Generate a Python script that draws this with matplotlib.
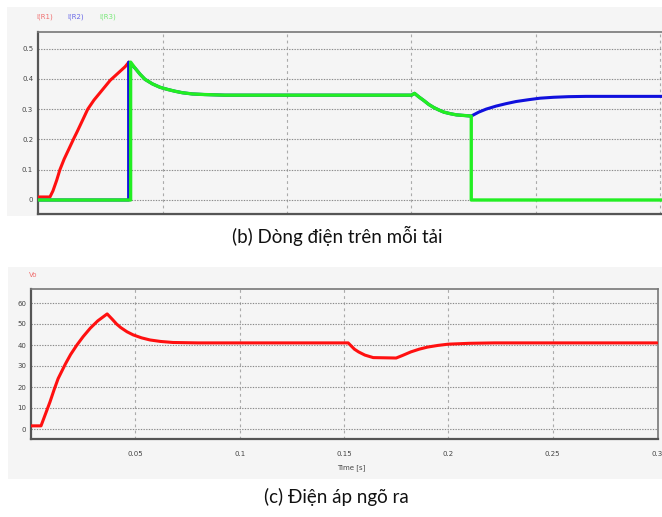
import matplotlib
matplotlib.use("Agg")
import matplotlib.pyplot as plt
from matplotlib.patches import Rectangle

# ---------------- data ----------------
# (b) load currents
t_r1 = [0, 0.0048, 0.0060, 0.0075, 0.0088, 0.0105, 0.0125, 0.0145, 0.0157,
        0.018, 0.020, 0.0225, 0.025, 0.027, 0.029, 0.031, 0.033, 0.035, 0.0365]
i_r1 = [0.01, 0.01, 0.03, 0.065, 0.10, 0.135, 0.17, 0.205, 0.225,
        0.265, 0.30, 0.33, 0.355, 0.375, 0.395, 0.41, 0.425, 0.44, 0.455]

t_r2 = [0, 0.0364, 0.0364, 0.039, 0.041, 0.043, 0.046, 0.049, 0.052, 0.055,
        0.058, 0.062, 0.067, 0.075, 0.150, 0.1512, 0.153, 0.155, 0.157,
        0.159, 0.161, 0.163, 0.1655, 0.168, 0.171, 0.174, 0.177, 0.180,
        0.184, 0.188, 0.192, 0.197, 0.2016, 0.207, 0.213, 0.22, 0.251]
i_r2 = [0, 0, 0.455, 0.435, 0.415, 0.398, 0.383, 0.372, 0.365, 0.359,
        0.354, 0.350, 0.348, 0.346, 0.346, 0.352, 0.34, 0.328, 0.315,
        0.305, 0.297, 0.290, 0.285, 0.281, 0.279, 0.277, 0.290, 0.300,
        0.310, 0.318, 0.325, 0.331, 0.336, 0.339, 0.341, 0.342, 0.342]

t_r3 = [0, 0.0372, 0.0372, 0.039, 0.041, 0.043, 0.046, 0.049, 0.052, 0.055,
        0.058, 0.062, 0.067, 0.075, 0.150, 0.1512, 0.153, 0.155, 0.157,
        0.159, 0.161, 0.163, 0.1655, 0.168, 0.171, 0.174, 0.174, 0.251]
i_r3 = [0, 0, 0.455, 0.435, 0.415, 0.398, 0.383, 0.372, 0.365, 0.359,
        0.354, 0.350, 0.348, 0.346, 0.346, 0.352, 0.34, 0.328, 0.315,
        0.305, 0.297, 0.290, 0.285, 0.281, 0.279, 0.277, 0, 0]

# (c) output voltage
t_vo = [0, 0.0048, 0.0065, 0.0091, 0.011, 0.013, 0.0165, 0.019, 0.022,
        0.025, 0.0284, 0.032, 0.0365, 0.039, 0.041, 0.043, 0.046, 0.049,
        0.053, 0.057, 0.062, 0.068, 0.08, 0.152, 0.1535, 0.155, 0.157,
        0.160, 0.164, 0.175, 0.178, 0.182, 0.186, 0.19, 0.195, 0.2, 0.21,
        0.222, 0.3]
vo = [1.5, 1.5, 6, 12.9, 18.5, 24, 31, 35.5, 40,
      44, 48, 51.5, 54.8, 52.2, 50, 48.3, 46.3, 44.8,
      43.4, 42.4, 41.7, 41.2, 41, 41, 39.5, 38, 36.7,
      35.2, 34, 33.8, 35, 36.7, 38, 39, 39.8, 40.4, 40.8,
      41, 41]

top_yticks = [0, 0.1, 0.2, 0.3, 0.4, 0.5]
top_yticklabels = ["0", "0.1", "0.2", "0.3", "0.4", "0.5"]
top_xgrid = [0.05, 0.10, 0.15, 0.20, 0.25]
bot_yticks = [0, 10, 20, 30, 40, 50, 60]
bot_xticks = [0.05, 0.1, 0.15, 0.2, 0.25, 0.3]
bot_xticklabels = ["0.05", "0.1", "0.15", "0.2", "0.25", "0.3"]

legend_names = ["I(R1)", "I(R2)", "I(R3)"]
caption_b = "(b) Dòng điện trên mỗi tải"
caption_c = "(c) Điện áp ngõ ra"

# ---------------- figure ----------------
W, H = 662, 517
fig = plt.figure(figsize=(W / 100, H / 100), dpi=100)
fig.patch.set_facecolor("white")

def fx(px):
    return px / W

def fy(py):
    return 1 - py / H

bg = "#f5f5f5"
fig.patches.append(Rectangle((fx(7), fy(216)), fx(662 - 7), (216 - 7) / H,
                             transform=fig.transFigure, facecolor=bg,
                             edgecolor="none", zorder=-5))
fig.patches.append(Rectangle((fx(8), fy(479)), fx(662 - 8), (479 - 267) / H,
                             transform=fig.transFigure, facecolor=bg,
                             edgecolor="none", zorder=-5))

red = "#ff1010"
blue = "#1010dd"
green = "#22ee22"
tick_color = "#444444"

def style(ax):
    ax.set_zorder(2)
    ax.set_facecolor(bg)
    ax.tick_params(length=0, labelsize=5, colors=tick_color)
    ax.grid(axis="y", color="#8a8a8a", linestyle=(0, (1.2, 1.2)), linewidth=0.8)
    for s in ["left", "bottom"]:
        ax.spines[s].set_color("#555555")
        ax.spines[s].set_linewidth(1.6)
    ax.spines["top"].set_color("#777777")
    ax.spines["top"].set_linewidth(1.2)
    ax.spines["right"].set_color("#777777")
    ax.spines["right"].set_linewidth(1.2)

line_kw = dict(solid_joinstyle="round", solid_capstyle="round")

# top axes
ax1 = fig.add_axes([fx(38), fy(214), fx(662 - 38), (214 - 32) / H])
style(ax1)
ax1.spines["right"].set_visible(False)
ax1.set_xlim(0, (662 - 38) / 2490)
ax1.set_ylim((200 - 214) / 303.0, (200 - 32) / 303.0)
ax1.set_yticks(top_yticks)
ax1.set_yticklabels(top_yticklabels)
ax1.set_xticks([])
for xg in top_xgrid:
    ax1.axvline(xg, color="#aaaaaa", linestyle=(0, (2.5, 3)), linewidth=0.8, zorder=1)
ax1.plot(t_r1, i_r1, color=red, linewidth=2.2, zorder=3, **line_kw)
ax1.plot(t_r2, i_r2, color=blue, linewidth=2.2, zorder=4, **line_kw)
ax1.plot(t_r3, i_r3, color=green, linewidth=2.4, zorder=5, **line_kw)

leg_cols = ["#f07070", "#6a6ae8", "#77e877"]
for name, col, px in zip(legend_names, leg_cols, [45, 76, 108]):
    fig.text(fx(px), fy(17), name, color=col, fontsize=5, ha="center", va="center")

# bottom axes
ax2 = fig.add_axes([fx(31), fy(439), fx(658 - 31), (439 - 289) / H])
style(ax2)
ax2.set_xlim(0, 0.3 * (658 - 31) / (657 - 31))
ax2.set_ylim((429 - 439) / 2.1, (429 - 289) / 2.1)
ax2.set_yticks(bot_yticks)
ax2.set_xticks(bot_xticks)
ax2.set_xticklabels(bot_xticklabels)
ax2.tick_params(axis="x", pad=9)
for xg in bot_xticks[:-1]:
    ax2.axvline(xg, color="#aaaaaa", linestyle=(0, (2.5, 3)), linewidth=0.8, zorder=1)
ax2.plot(t_vo, vo, color=red, linewidth=2.2, zorder=3, **line_kw)

fig.text(fx(33), fy(275), "Vo", color="#f07070", fontsize=5, ha="center", va="center")
fig.text(fx(337), fy(468), "Time [s]", color=tick_color, fontsize=5, ha="left", va="center")

cap_font = ["Lato", "DejaVu Sans"]
fig.text(fx(337), fy(236), caption_b, family=cap_font, fontsize=13.5,
         ha="center", va="center", color="#111111")
fig.text(fx(336), fy(497), caption_c, family=cap_font, fontsize=13.5,
         ha="center", va="center", color="#111111")

fig.savefig("out.png", dpi=100, facecolor="white")
